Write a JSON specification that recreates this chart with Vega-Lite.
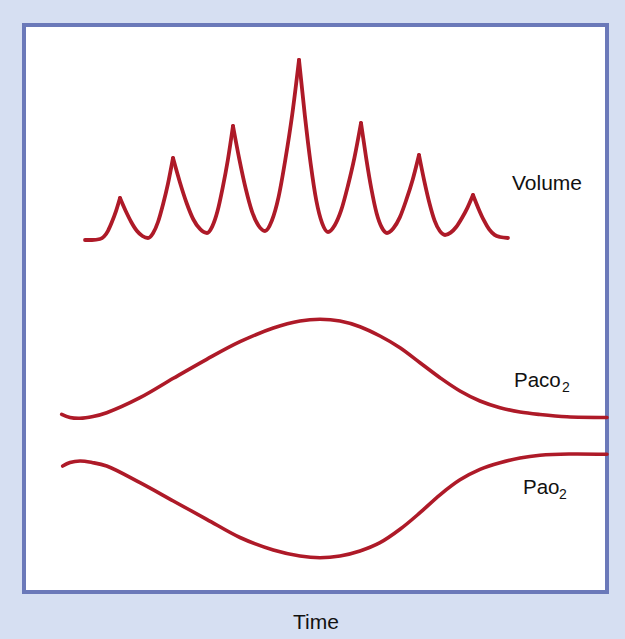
{
  "$schema": "https://vega.github.io/schema/vega-lite/v6.json",
  "width": 583,
  "height": 567,
  "autosize": "none",
  "padding": {"left": 24, "top": 25, "right": 18, "bottom": 47},
  "background": "#d6dff2",
  "config": {
    "view": {"stroke": "#6b79b9", "strokeWidth": 4, "fill": "white"},
    "font": "Liberation Sans"
  },
  "datasets": {
    "volume": [
      {"breath": 1, "t": 61, "v": 352},
      {"breath": 1, "t": 68, "v": 352},
      {"breath": 1, "t": 76, "v": 353},
      {"breath": 1, "t": 80, "v": 355.5},
      {"breath": 1, "t": 84, "v": 361.2},
      {"breath": 1, "t": 88, "v": 370.2},
      {"breath": 1, "t": 92, "v": 380.9},
      {"breath": 1, "t": 96, "v": 394},
      {"breath": 2, "t": 96, "v": 394},
      {"breath": 2, "t": 101.6, "v": 381.2},
      {"breath": 2, "t": 107.2, "v": 370},
      {"breath": 2, "t": 112.8, "v": 361.2},
      {"breath": 2, "t": 118.4, "v": 356},
      {"breath": 2, "t": 124, "v": 354},
      {"breath": 2, "t": 129, "v": 358.8},
      {"breath": 2, "t": 134, "v": 370},
      {"breath": 2, "t": 139, "v": 387.6},
      {"breath": 2, "t": 144, "v": 408.4},
      {"breath": 2, "t": 149, "v": 434},
      {"breath": 3, "t": 149, "v": 434},
      {"breath": 3, "t": 155.8, "v": 410},
      {"breath": 3, "t": 162.6, "v": 389},
      {"breath": 3, "t": 169.4, "v": 372.5},
      {"breath": 3, "t": 176.2, "v": 362.8},
      {"breath": 3, "t": 183, "v": 359},
      {"breath": 3, "t": 188.2, "v": 365.4},
      {"breath": 3, "t": 193.4, "v": 380.4},
      {"breath": 3, "t": 198.6, "v": 403.9},
      {"breath": 3, "t": 203.8, "v": 431.8},
      {"breath": 3, "t": 209, "v": 466},
      {"breath": 4, "t": 209, "v": 466},
      {"breath": 4, "t": 215.4, "v": 432.4},
      {"breath": 4, "t": 221.8, "v": 403},
      {"breath": 4, "t": 228.2, "v": 379.9},
      {"breath": 4, "t": 234.6, "v": 366.3},
      {"breath": 4, "t": 241, "v": 361},
      {"breath": 4, "t": 247.8, "v": 371.3},
      {"breath": 4, "t": 254.6, "v": 395.2},
      {"breath": 4, "t": 261.4, "v": 432.8},
      {"breath": 4, "t": 268.2, "v": 477.3},
      {"breath": 4, "t": 275, "v": 532},
      {"breath": 5, "t": 275, "v": 532},
      {"breath": 5, "t": 280.8, "v": 477},
      {"breath": 5, "t": 286.6, "v": 428.8},
      {"breath": 5, "t": 292.4, "v": 391},
      {"breath": 5, "t": 298.2, "v": 368.6},
      {"breath": 5, "t": 304, "v": 360},
      {"breath": 5, "t": 310.6, "v": 366.5},
      {"breath": 5, "t": 317.2, "v": 381.8},
      {"breath": 5, "t": 323.8, "v": 405.8},
      {"breath": 5, "t": 330.4, "v": 434.1},
      {"breath": 5, "t": 337, "v": 469},
      {"breath": 6, "t": 337, "v": 469},
      {"breath": 6, "t": 342.2, "v": 433.8},
      {"breath": 6, "t": 347.4, "v": 403},
      {"breath": 6, "t": 352.6, "v": 378.8},
      {"breath": 6, "t": 357.8, "v": 364.5},
      {"breath": 6, "t": 363, "v": 359},
      {"breath": 6, "t": 369.4, "v": 363.7},
      {"breath": 6, "t": 375.8, "v": 374.6},
      {"breath": 6, "t": 382.2, "v": 391.8},
      {"breath": 6, "t": 388.6, "v": 412},
      {"breath": 6, "t": 395, "v": 437},
      {"breath": 7, "t": 395, "v": 437},
      {"breath": 7, "t": 400.2, "v": 411.4},
      {"breath": 7, "t": 405.4, "v": 389},
      {"breath": 7, "t": 410.6, "v": 371.4},
      {"breath": 7, "t": 415.8, "v": 361},
      {"breath": 7, "t": 421, "v": 357},
      {"breath": 7, "t": 426.6, "v": 359.4},
      {"breath": 7, "t": 432.2, "v": 365},
      {"breath": 7, "t": 437.8, "v": 373.8},
      {"breath": 7, "t": 443.4, "v": 384.2},
      {"breath": 7, "t": 449, "v": 397},
      {"breath": 8, "t": 449, "v": 397},
      {"breath": 8, "t": 454.4, "v": 383.6},
      {"breath": 8, "t": 459.8, "v": 371.8},
      {"breath": 8, "t": 465.2, "v": 362.6},
      {"breath": 8, "t": 470.6, "v": 357.1},
      {"breath": 8, "t": 476, "v": 355},
      {"breath": 8, "t": 484, "v": 354}
    ],
    "gases": [
      {"series": "PaCO2", "t": 37.7, "v": 177.7},
      {"series": "PaCO2", "t": 46, "v": 174.5},
      {"series": "PaCO2", "t": 56, "v": 173.7},
      {"series": "PaCO2", "t": 69, "v": 175.5},
      {"series": "PaCO2", "t": 82.7, "v": 179.3},
      {"series": "PaCO2", "t": 116, "v": 194.3},
      {"series": "PaCO2", "t": 149.3, "v": 213.7},
      {"series": "PaCO2", "t": 182.7, "v": 232.7},
      {"series": "PaCO2", "t": 216, "v": 250.3},
      {"series": "PaCO2", "t": 249.3, "v": 264},
      {"series": "PaCO2", "t": 276, "v": 271},
      {"series": "PaCO2", "t": 296, "v": 272.7},
      {"series": "PaCO2", "t": 316, "v": 271},
      {"series": "PaCO2", "t": 336, "v": 265.3},
      {"series": "PaCO2", "t": 356, "v": 256},
      {"series": "PaCO2", "t": 376, "v": 244.3},
      {"series": "PaCO2", "t": 396, "v": 229.3},
      {"series": "PaCO2", "t": 416, "v": 214.3},
      {"series": "PaCO2", "t": 436, "v": 201},
      {"series": "PaCO2", "t": 456, "v": 191},
      {"series": "PaCO2", "t": 476, "v": 184.3},
      {"series": "PaCO2", "t": 496, "v": 180},
      {"series": "PaCO2", "t": 516, "v": 177.5},
      {"series": "PaCO2", "t": 543, "v": 175.2},
      {"series": "PaCO2", "t": 583, "v": 174.5},
      {"series": "PaO2", "t": 38.7, "v": 126},
      {"series": "PaO2", "t": 46, "v": 129.5},
      {"series": "PaO2", "t": 56, "v": 131},
      {"series": "PaO2", "t": 68, "v": 129.5},
      {"series": "PaO2", "t": 82.7, "v": 126},
      {"series": "PaO2", "t": 116, "v": 109.3},
      {"series": "PaO2", "t": 149.3, "v": 91},
      {"series": "PaO2", "t": 182.7, "v": 72.7},
      {"series": "PaO2", "t": 216, "v": 54.5},
      {"series": "PaO2", "t": 249.3, "v": 42},
      {"series": "PaO2", "t": 276, "v": 36},
      {"series": "PaO2", "t": 296, "v": 34.3},
      {"series": "PaO2", "t": 316, "v": 36},
      {"series": "PaO2", "t": 336, "v": 41},
      {"series": "PaO2", "t": 356, "v": 49.3},
      {"series": "PaO2", "t": 376, "v": 62.7},
      {"series": "PaO2", "t": 396, "v": 79.3},
      {"series": "PaO2", "t": 416, "v": 97.2},
      {"series": "PaO2", "t": 436, "v": 112.2},
      {"series": "PaO2", "t": 456, "v": 122.7},
      {"series": "PaO2", "t": 476, "v": 129.3},
      {"series": "PaO2", "t": 496, "v": 134},
      {"series": "PaO2", "t": 516, "v": 136.7},
      {"series": "PaO2", "t": 545, "v": 138},
      {"series": "PaO2", "t": 583, "v": 137.7}
    ],
    "labels": [
      {"kind": "name", "text": "Volume", "t": 488, "v": 402},
      {"kind": "gas", "text": "Paco", "t": 490, "v": 205},
      {"kind": "sub", "text": "2", "t": 538, "v": 200},
      {"kind": "gas", "text": "Pao", "t": 499, "v": 98},
      {"kind": "sub", "text": "2", "t": 535, "v": 93}
    ]
  },
  "layer": [
    {
      "data": {"name": "volume"},
      "mark": {"type": "line", "color": "#ae1a28", "strokeWidth": 3.8, "strokeJoin": "round", "strokeCap": "round", "interpolate": "monotone"},
      "encoding": {
        "x": {"field": "t", "type": "quantitative", "scale": {"domain": [0, 583], "nice": false, "zero": false},
              "axis": {"title": "Time", "labels": false, "ticks": false, "domain": false, "grid": false,
                       "titleFontSize": 21, "titleFontWeight": "normal", "titleColor": "#111111", "titlePadding": 19, "titleFont": "Liberation Sans"}},
        "y": {"field": "v", "type": "quantitative", "scale": {"domain": [0, 567], "nice": false, "zero": false}, "axis": null},
        "detail": {"field": "breath"},
        "order": {"field": "t", "type": "quantitative"}
      }
    },
    {
      "data": {"name": "gases"},
      "mark": {"type": "line", "color": "#ae1a28", "strokeWidth": 3.6, "strokeCap": "round", "interpolate": "catmull-rom"},
      "encoding": {
        "x": {"field": "t", "type": "quantitative"},
        "y": {"field": "v", "type": "quantitative"},
        "detail": {"field": "series"},
        "order": {"field": "t", "type": "quantitative"}
      }
    },
    {
      "data": {"name": "labels"},
      "transform": [{"filter": "datum.kind === 'name'"}],
      "mark": {"type": "text", "align": "left", "baseline": "alphabetic", "fontSize": 21, "color": "#111111", "font": "Liberation Sans"},
      "encoding": {
        "x": {"field": "t", "type": "quantitative"},
        "y": {"field": "v", "type": "quantitative"},
        "text": {"field": "text"}
      }
    },
    {
      "data": {"name": "labels"},
      "transform": [{"filter": "datum.kind === 'gas'"}],
      "mark": {"type": "text", "align": "left", "baseline": "alphabetic", "fontSize": 20.5, "color": "#111111", "font": "Liberation Sans"},
      "encoding": {
        "x": {"field": "t", "type": "quantitative"},
        "y": {"field": "v", "type": "quantitative"},
        "text": {"field": "text"}
      }
    },
    {
      "data": {"name": "labels"},
      "transform": [{"filter": "datum.kind === 'sub'"}],
      "mark": {"type": "text", "align": "left", "baseline": "alphabetic", "fontSize": 14, "color": "#111111", "font": "Liberation Sans"},
      "encoding": {
        "x": {"field": "t", "type": "quantitative"},
        "y": {"field": "v", "type": "quantitative"},
        "text": {"field": "text"}
      }
    }
  ]
}
